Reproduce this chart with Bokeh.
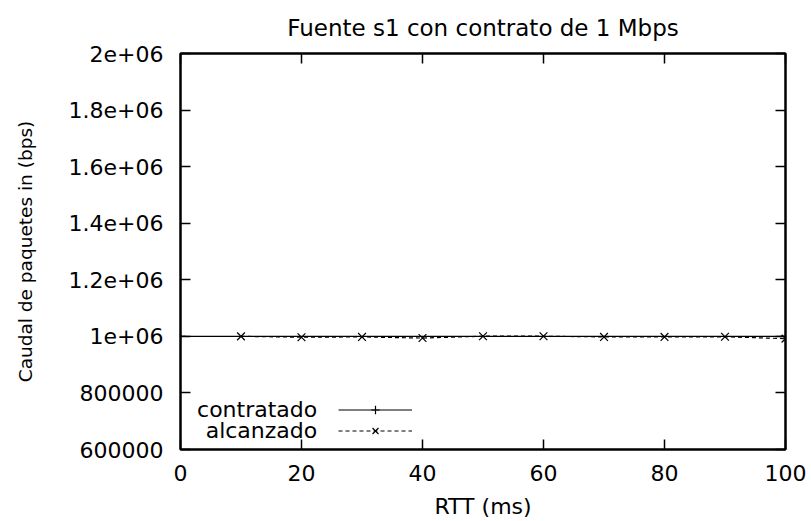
from bokeh.plotting import figure
from bokeh.models import Range1d, LinearAxis, FixedTicker, Legend, LegendItem, Label
from bokeh.embed import file_html
from bokeh.resources import INLINE

# data
contratado_x = [0, 100]
contratado_y = [1000000, 1000000]
alcanzado_x = [10, 20, 30, 40, 50, 60, 70, 80, 90, 100]
alcanzado_y = [1000000, 997000, 998000, 994000, 1000500, 1000500, 998000, 998000, 998500, 992000]
x_ticks = [0, 20, 40, 60, 80, 100]
y_ticks = [600000, 800000, 1000000, 1200000, 1400000, 1600000, 1800000, 2000000]
y_tick_labels = ["600000", "800000", "1e+06", "1.2e+06", "1.4e+06", "1.6e+06", "1.8e+06", "2e+06"]
title_text = "Fuente s1 con contrato de 1 Mbps"

FONT = "DejaVu Sans"
FS = "22px"

p = figure(width=811, height=521, x_range=Range1d(0, 100), y_range=Range1d(600000, 2000000),
           output_backend="svg", toolbar_location=None,
           min_border_left=180, min_border_right=26, min_border_top=52, min_border_bottom=69,
           title=title_text)
p.title.align = "center"
p.title.text_font = FONT
p.title.text_font_size = "23px"
p.title.text_font_style = "normal"
p.title.text_color = "black"
p.title.standoff = 25
p.grid.visible = False
p.outline_line_color = "black"
p.outline_line_width = 2

def style_axis(ax, labels=True):
    ax.major_tick_in = 10
    ax.major_tick_out = 0
    ax.minor_tick_line_color = None
    ax.major_tick_line_color = "black"
    ax.major_tick_line_width = 1.5
    ax.axis_line_color = "black"
    ax.axis_line_width = 2
    ax.major_label_text_font = FONT
    ax.major_label_text_color = "black"
    if labels:
        ax.major_label_text_font_size = FS
    else:
        ax.major_label_text_font_size = "1px"
        ax.major_label_text_alpha = 0
        ax.major_label_text_color = None
        ax.major_label_standoff = 0

p.xaxis.ticker = FixedTicker(ticks=x_ticks)
p.yaxis.ticker = FixedTicker(ticks=y_ticks)
p.yaxis.major_label_overrides = {t: l for t, l in zip(y_ticks, y_tick_labels)}
style_axis(p.xaxis[0])
style_axis(p.yaxis[0])
p.xaxis.major_label_standoff = 15
p.yaxis.major_label_standoff = 17
p.xaxis.axis_label = "RTT (ms)"
p.yaxis.axis_label = "Caudal de paquetes in (bps)"
for ax in (p.xaxis[0], p.yaxis[0]):
    ax.axis_label_text_font = FONT
    ax.axis_label_text_font_style = "normal"
    ax.axis_label_text_color = "black"
p.xaxis.axis_label_text_font_size = FS
p.yaxis.axis_label_text_font_size = "18.5px"
p.xaxis.axis_label_standoff = 10
p.yaxis.axis_label_standoff = 30

rax = LinearAxis(ticker=FixedTicker(ticks=y_ticks))
style_axis(rax, labels=False)
p.add_layout(rax, "right")
tax = LinearAxis(ticker=FixedTicker(ticks=x_ticks))
style_axis(tax, labels=False)
p.add_layout(tax, "above")

r1l = p.line(contratado_x, contratado_y, line_color="black", line_width=1.2)
r1m = p.scatter(contratado_x, contratado_y, marker="cross", size=11, line_color="black", line_width=1.2)
r2l = p.line(alcanzado_x, alcanzado_y, line_color="black", line_width=1.2, line_dash="4 3")
r2m = p.scatter(alcanzado_x, alcanzado_y, marker="x", size=11, line_color="black", line_width=1.2)

legend = Legend(items=[LegendItem(label=" ", renderers=[r1l, r1m]),
                       LegendItem(label=" ", renderers=[r2l, r2m])],
                location=(158, 8), glyph_width=74, glyph_height=21, label_height=21,
                label_width=0, label_standoff=0, spacing=0, padding=0, margin=0,
                border_line_alpha=0, background_fill_alpha=0, label_text_font_size="1px")
p.add_layout(legend, "center")

for txt, yv in (("contratado", 740000), ("alcanzado", 666500)):
    p.add_layout(Label(x=22.6, y=yv, text=txt, text_align="right", text_baseline="middle",
                       text_font=FONT, text_font_size=FS, text_color="black"))

open("out.html", "w").write(file_html(p, INLINE))
